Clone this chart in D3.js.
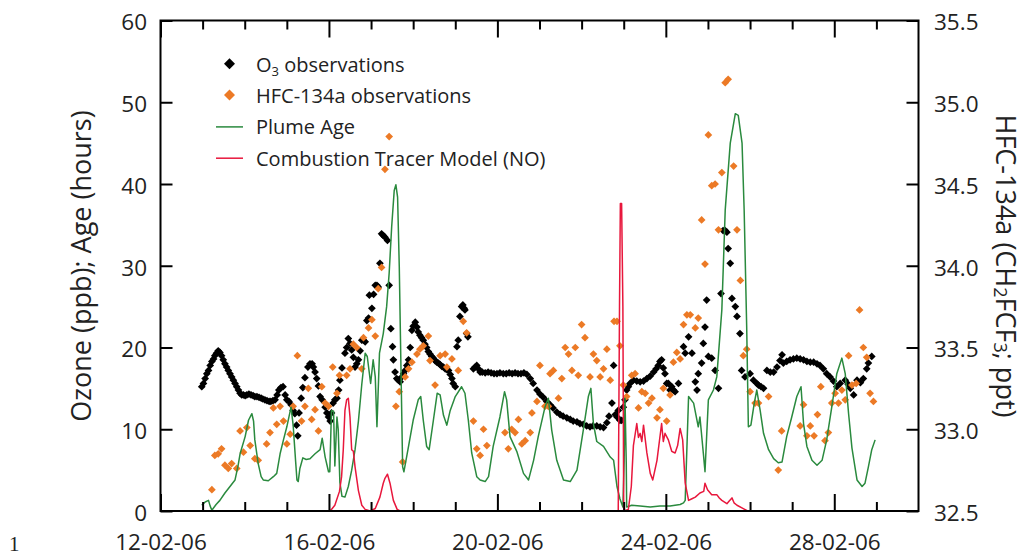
<!DOCTYPE html>
<html>
<head>
<meta charset="utf-8">
<script src="https://cdn.jsdelivr.net/npm/d3@7"></script>
<style>
  html, body { margin: 0; padding: 0; background: #fff; }
  svg { display: block; font-family: "Open Sans", sans-serif; }
</style>
</head>
<body>
<svg id="chart" width="1033" height="556"></svg>
<script>
// ---------------- DATA (days since 12-02-06 00:00) ----------------
const xMajorDays = [0, 4, 8, 12, 16];
const xMajorLabels = ["12-02-06", "16-02-06", "20-02-06", "24-02-06", "28-02-06"];
const xMinorDays = [1,2,3,5,6,7,9,10,11,13,14,15,17];
const leftTicks = [0, 10, 20, 30, 40, 50, 60];
const rightTicks = [32.5, 33.0, 33.5, 34.0, 34.5, 35.0, 35.5];

// O3 observations (ppb)
const o3Days = [0.98,1.02,1.06,1.10,1.14,1.18,1.22,1.26,1.29,1.33,1.37,1.41,1.45,1.49,1.53,1.57,1.61,1.65,1.69,1.73,1.77,1.81,1.85,1.89,1.93,1.97,2.01,2.05,2.10,2.15,2.20,2.24,2.29,2.34,2.39,2.43,2.48,2.53,2.58,2.62,2.67,2.72,2.77,2.81,2.86,2.91,2.96,3.00,3.05,3.10,3.15,3.19,3.23,3.26,3.29,3.34,3.38,3.43,3.50,3.55,3.60,3.63,3.67,3.71,3.75,3.79,3.84,3.91,3.95,3.99,4.03,4.06,4.10,4.14,4.19,4.23,4.26,4.31,4.38,4.42,4.46,4.50,4.54,4.58,4.62,4.66,4.70,4.74,4.78,4.82,4.86,4.90,4.94,4.96,5.02,5.06,5.10,5.14,5.17,5.21,5.25,5.29,5.33,5.39,5.43,5.47,5.51,5.53,5.57,5.61,5.65,5.69,5.73,5.77,5.81,5.85,5.89,5.93,5.97,6.00,6.05,6.09,6.12,6.16,6.20,6.24,6.28,6.32,6.36,6.40,6.44,6.48,6.52,6.56,6.60,6.64,6.68,6.72,6.76,6.80,6.84,6.88,6.92,6.95,7.00,7.04,7.07,7.11,7.15,7.18,7.21,7.23,7.27,7.30,7.43,7.47,7.51,7.55,7.59,7.64,7.71,7.78,7.85,7.92,7.99,8.06,8.14,8.21,8.28,8.35,8.42,8.49,8.56,8.63,8.70,8.78,8.85,8.94,9.01,9.09,9.17,9.25,9.32,9.41,9.49,9.56,9.65,9.73,9.80,9.89,9.96,10.04,10.12,10.20,10.27,10.36,10.44,10.52,10.60,10.65,10.72,10.76,10.80,10.84,10.87,10.91,10.95,10.99,11.03,11.07,11.11,11.15,11.23,11.31,11.39,11.47,11.55,11.63,11.71,11.77,11.82,11.86,11.90,11.94,11.98,12.02,12.06,12.10,12.14,12.18,12.22,12.30,12.42,12.46,12.54,12.62,12.70,12.74,12.77,12.85,12.89,12.93,12.97,13.01,13.09,13.17,13.25,13.31,13.36,13.41,13.45,13.48,13.53,13.57,13.65,13.69,13.76,13.80,13.88,14.00,14.08,14.16,14.20,14.26,14.32,14.40,14.48,14.56,14.64,14.71,14.76,14.79,14.87,14.95,15.03,15.11,15.19,15.27,15.35,15.43,15.51,15.59,15.66,15.74,15.82,15.90,15.98,16.06,16.14,16.26,16.33,16.38,16.46,16.54,16.62,16.69,16.77,16.81,16.89];
const o3Values = [15.2,15.6,16.2,16.8,17.2,17.8,18.3,18.6,19.0,19.3,19.6,19.4,19.0,18.5,18.0,17.6,17.2,16.8,16.4,16.0,15.6,15.2,14.8,14.4,14.2,14.2,14.1,14.2,14.3,14.2,14.1,14.0,14.0,13.9,13.8,13.7,13.6,13.5,13.4,13.4,13.5,13.6,14.2,14.8,15.1,15.2,14.2,13.6,13.4,13.0,12.3,11.9,10.5,9.2,12.0,13.8,15.1,16.3,17.6,18.0,18.0,17.6,17.0,16.2,15.3,14.0,13.6,12.7,12.0,11.5,11.0,12.0,13.2,13.6,13.8,14.8,16.0,17.5,19.3,20.0,21.1,20.5,19.7,18.8,17.6,18.0,18.5,19.6,20.9,20.9,20.7,23.3,23.6,26.4,24.8,26.5,27.6,27.6,27.4,30.3,33.9,33.7,33.5,33.1,27.6,22.3,20.1,18.5,17.0,16.2,16.0,15.8,16.4,16.8,17.2,17.8,18.5,20.0,22.1,22.6,23.1,22.5,21.9,21.5,21.2,20.9,20.4,20.0,19.5,19.2,18.9,18.7,18.4,18.2,18.1,17.9,17.7,17.6,17.4,17.3,17.2,16.7,16.2,15.6,15.2,20.1,20.9,23.8,25.0,25.2,24.8,24.6,21.7,21.3,17.4,17.6,17.8,17.4,17.0,17.0,16.9,17.0,16.9,16.8,16.8,16.9,16.8,16.8,16.9,16.8,16.9,16.8,16.8,16.9,16.7,16.2,15.6,14.8,14.3,13.9,13.4,13.0,12.6,12.1,11.8,11.6,11.4,11.2,11.0,10.9,10.7,10.6,10.4,10.3,10.4,10.4,10.3,10.2,10.8,11.6,13.2,17.8,11.8,11.5,12.3,11.1,11.1,12.7,13.6,14.8,15.2,15.6,16.0,15.9,15.8,15.9,16.2,16.5,17.0,17.4,17.8,18.3,18.5,17.5,16.8,15.6,15.6,14.8,15.2,14.8,14.6,15.6,20.1,19.3,21.3,19.3,15.8,14.8,16.8,18.1,20.5,22.5,25.8,18.9,18.7,17.2,15.0,26.6,34.3,34.3,34.1,32.1,30.3,26.0,25.0,23.8,21.7,17.2,16.4,16.8,16.0,15.6,15.4,15.2,15.0,17.2,17.0,17.0,17.6,18.4,19.1,18.1,18.3,18.5,18.6,18.7,18.6,18.5,18.3,18.2,18.2,18.0,17.8,17.4,16.8,16.4,15.9,15.2,15.6,16.0,15.5,15.0,14.2,16.0,15.7,16.2,17.4,18.1,18.9];

// HFC-134a observations (ppt, right axis)
const hfcDays = [1.22,1.29,1.37,1.45,1.53,1.61,1.69,1.81,1.89,1.97,2.05,2.13,2.24,2.32,2.52,2.60,2.68,2.76,2.84,2.92,3.00,3.08,3.15,3.25,3.35,3.43,3.51,3.59,3.67,3.75,3.83,3.91,3.99,4.09,4.19,4.25,4.42,4.50,4.58,4.66,4.78,4.82,4.94,5.02,5.10,5.17,5.25,5.33,5.43,5.59,5.67,5.75,5.81,5.89,5.97,6.09,6.16,6.24,6.36,6.40,6.52,6.64,6.76,6.80,6.92,7.07,7.19,7.27,7.43,7.51,7.59,7.67,7.75,8.18,8.26,8.34,8.42,8.50,8.58,8.66,8.78,8.82,8.94,9.01,9.13,9.21,9.25,9.33,9.45,9.53,9.61,9.69,9.77,9.85,9.92,10.00,10.08,10.20,10.28,10.36,10.44,10.52,10.60,10.68,10.77,10.84,10.91,10.99,11.07,11.19,11.27,11.35,11.43,11.51,11.59,11.67,11.79,11.86,11.94,12.02,12.10,12.18,12.26,12.34,12.42,12.50,12.58,12.70,12.77,12.85,12.93,13.01,13.09,13.17,13.25,13.33,13.41,13.48,13.61,13.69,13.77,13.84,13.92,14.00,14.12,14.20,14.44,14.67,14.75,15.19,15.27,15.35,15.43,15.52,15.60,15.68,15.78,15.86,15.94,16.02,16.10,16.18,16.26,16.34,16.42,16.52,16.60,16.69,16.77,16.85,16.93];
const hfcValues = [32.63,32.84,32.85,32.88,32.78,32.76,32.79,32.76,32.99,32.86,33.01,32.90,32.82,32.81,32.91,32.98,33.13,33.03,33.14,33.05,32.91,32.97,33.14,33.45,33.05,33.14,33.25,33.06,33.12,32.99,33.26,33.16,33.14,33.38,33.22,33.33,33.33,33.37,33.52,33.50,33.37,33.56,33.62,33.67,33.57,33.86,33.99,34.59,34.79,33.14,33.23,32.80,33.32,33.37,33.41,33.46,33.49,33.51,33.57,33.42,33.27,33.45,33.46,33.38,33.43,33.36,33.66,33.59,33.05,32.88,32.84,33.00,32.90,32.98,32.88,33.00,32.98,33.06,32.91,32.93,32.98,33.10,33.17,33.39,33.14,33.14,33.34,33.36,33.19,33.31,33.50,33.46,33.36,33.50,33.33,33.64,33.56,33.32,33.46,33.42,33.32,33.37,33.49,33.30,33.66,33.66,33.51,33.27,33.20,33.33,33.34,33.13,33.23,33.22,33.16,33.19,33.07,33.12,33.25,33.05,33.21,33.41,33.47,33.43,33.64,33.70,33.70,33.62,33.68,34.28,34.01,34.80,34.49,34.50,34.22,34.57,35.12,35.14,34.61,34.22,33.91,33.45,33.49,33.23,33.16,33.16,33.20,32.75,32.99,33.02,33.15,32.96,33.02,32.96,33.09,33.26,32.93,32.98,33.16,33.22,33.16,33.24,33.18,33.45,33.27,33.28,33.73,33.50,33.44,33.22,33.17];

// Plume Age (hours, left axis)
const ageDays = [0.98,1.06,1.14,1.18,1.22,1.32,1.41,1.53,1.65,1.77,1.84,1.89,2.01,2.09,2.17,2.21,2.24,2.32,2.39,2.44,2.56,2.68,2.76,2.84,2.92,3.00,3.10,3.15,3.21,3.24,3.27,3.31,3.38,3.46,3.55,3.67,3.79,3.84,3.91,3.99,4.02,4.06,4.11,4.14,4.19,4.22,4.26,4.31,4.38,4.46,4.54,4.62,4.70,4.78,4.86,4.91,4.99,5.05,5.10,5.14,5.20,5.29,5.37,5.43,5.49,5.55,5.59,5.63,5.67,5.71,5.75,5.78,5.89,6.00,6.12,6.18,6.24,6.32,6.38,6.48,6.57,6.64,6.72,6.80,6.88,7.00,7.15,7.23,7.31,7.39,7.51,7.59,7.71,7.79,7.90,8.06,8.17,8.22,8.30,8.46,8.62,8.74,8.86,8.97,9.13,9.21,9.29,9.41,9.57,9.73,9.89,10.04,10.16,10.22,10.28,10.36,10.52,10.68,10.76,10.84,10.91,10.98,11.01,11.03,11.06,11.07,11.19,11.39,11.63,11.86,12.10,12.34,12.42,12.46,12.54,12.66,12.77,12.81,12.89,12.93,13.01,13.13,13.21,13.33,13.41,13.53,13.65,13.72,13.81,13.86,13.92,13.96,14.02,14.10,14.16,14.24,14.32,14.44,14.56,14.67,14.76,14.87,14.99,15.11,15.21,15.27,15.35,15.47,15.59,15.71,15.82,15.94,16.06,16.18,16.26,16.34,16.42,16.54,16.66,16.73,16.81,16.89,16.97];
const ageValues = [0.7,1.1,1.3,0.6,0.1,0.8,1.3,2.2,3.0,3.8,5.5,7.0,9.1,11.1,11.9,11.0,8.7,5.8,4.2,3.8,3.7,4.2,4.6,7.0,8.7,10.3,12.7,10.5,6.0,3.8,3.6,5.2,6.5,6.3,6.4,7.0,7.5,8.9,6.6,4.8,4.8,12.3,12.2,5.5,11.5,10.0,3.5,1.8,1.7,3.0,5.0,7.5,11.0,15.5,19.3,18.9,15.6,18.5,16.4,10.3,19.3,21.7,25.0,29.1,34.8,39.2,39.9,38.4,29.9,17.6,5.4,4.8,7.9,11.1,13.6,14.0,11.1,7.9,7.5,11.1,14.4,14.2,11.7,10.5,12.3,14.0,15.2,14.4,11.1,7.1,4.2,3.8,3.6,4.2,7.9,11.5,14.6,13.6,9.1,7.3,4.6,3.8,6.2,9.1,12.7,13.8,9.9,6.2,3.8,3.6,5.0,9.9,14.0,15.0,10.7,8.5,7.9,6.6,6.2,3.0,1.5,0.5,6.0,13.8,6.0,0.5,0.7,0.6,0.5,0.6,0.6,0.8,1.0,1.3,14.0,13.2,10.3,11.5,7.1,4.8,13.6,14.8,16.4,24.6,36.8,45.0,48.6,48.4,45.0,36.8,22.5,10.3,10.5,13.2,14.8,12.3,9.5,7.5,6.4,5.9,6.0,9.1,11.5,14.0,15.2,10.7,7.9,6.2,5.6,6.2,8.7,12.7,16.8,18.7,16.8,11.9,7.7,3.8,3.0,3.4,5.4,7.5,8.7];

// Combustion Tracer Model (NO, left axis)
const noDays = [4.03,4.14,4.25,4.30,4.34,4.38,4.42,4.46,4.50,4.54,4.58,4.62,4.70,4.78,4.86,4.98,5.10,5.21,5.29,5.33,5.39,5.45,5.53,5.62,5.69,10.87,10.90,10.92,10.95,10.98,11.00,11.11,11.18,11.23,11.31,11.35,11.39,11.43,11.47,11.55,11.63,11.69,11.79,11.90,11.94,11.98,12.06,12.14,12.22,12.28,12.34,12.40,12.46,12.54,12.62,12.70,12.81,12.90,12.93,12.99,13.09,13.21,13.27,13.33,13.45,13.50,13.57,13.62,13.69,13.84,13.94];
const noValues = [0,0.7,2.4,4.2,7.5,12.3,13.6,13.8,11.5,7.5,7.3,5.4,2.5,0.7,0.2,0,0.3,1.7,3.4,4.0,4.5,3.4,1.3,0.2,0,0,25,37.6,37.6,25,0,0.2,3,8,10.7,9.0,9.5,8.5,10.5,7.1,4.6,3.8,6.2,10.7,8.5,9.5,8.7,7.3,7.1,8,10.1,8.7,3.4,1.3,1.5,1.7,2.2,2.4,3.4,2.6,2.0,2.0,1.6,1.3,0.9,1.2,1.6,1.0,0.7,0.3,0];

const legendLabels = ["O3 observations", "HFC-134a observations", "Plume Age", "Combustion Tracer Model (NO)"];
const leftTitle = "Ozone (ppb); Age (hours)";

// ---------------- CHART ----------------
const svg = d3.select("#chart");
const L = 160.5, R = 918.5, T = 20.5, B = 511;
const x = d3.scaleLinear().domain([0, 18]).range([L, R]);
const yL = d3.scaleLinear().domain([0, 60]).range([B, T]);
const yR = d3.scaleLinear().domain([32.5, 35.5]).range([B, T]);

const cBlack = "#000000", cOrange = "#EC7A26", cGreen = "#2A8A3E", cRed = "#E8173C";
const fontTick = 22.5;

// markers
const diamond = (size) => d3.symbol().type(d3.symbolSquare).size(size);
svg.append("g").selectAll("path").data(o3Days.map((d, i) => [d, o3Values[i]]))
  .join("path")
  .attr("d", diamond(30)())
  .attr("transform", d => `translate(${x(d[0])},${yL(d[1])}) rotate(45)`)
  .attr("fill", cBlack);

svg.append("g").selectAll("path").data(hfcDays.map((d, i) => [d, hfcValues[i]]))
  .join("path")
  .attr("d", diamond(30)())
  .attr("transform", d => `translate(${x(d[0])},${yR(d[1])}) rotate(45)`)
  .attr("fill", cOrange);

// lines
const lineL = d3.line().x(d => x(d[0])).y(d => yL(d[1]));
svg.append("path").datum(ageDays.map((d, i) => [d, ageValues[i]]))
  .attr("d", lineL).attr("fill", "none").attr("stroke", cGreen).attr("stroke-width", 1.5)
  .attr("stroke-linejoin", "round");
svg.append("path").datum(noDays.map((d, i) => [d, noValues[i]]))
  .attr("d", lineL).attr("fill", "none").attr("stroke", cRed).attr("stroke-width", 1.5)
  .attr("stroke-linejoin", "round");

// axes (ticks inside)
function styleAxis(g) {
  g.select(".domain").remove();
  g.selectAll("line").attr("stroke", "#000").attr("stroke-width", 2);
}
svg.append("g").attr("transform", `translate(0,${B})`)
  .call(d3.axisTop(x).tickValues(xMajorDays).tickSize(17).tickFormat(""))
  .call(styleAxis);
svg.append("g").attr("transform", `translate(0,${B})`)
  .call(d3.axisTop(x).tickValues(xMinorDays).tickSize(9).tickFormat(""))
  .call(styleAxis);
svg.append("g").attr("transform", `translate(0,${T})`)
  .call(d3.axisBottom(x).tickValues(xMajorDays).tickSize(17).tickFormat(""))
  .call(styleAxis);
svg.append("g").attr("transform", `translate(0,${T})`)
  .call(d3.axisBottom(x).tickValues(xMinorDays).tickSize(9).tickFormat(""))
  .call(styleAxis);
// bottom labels
const gxl = svg.append("g").attr("transform", `translate(0,${B})`)
  .call(d3.axisBottom(x).tickValues(xMajorDays).tickSize(0).tickPadding(23)
        .tickFormat((d, i) => xMajorLabels[i]));
gxl.select(".domain").remove();
gxl.selectAll("text").attr("font-size", fontTick).attr("font-family", "Open Sans").attr("fill", "#222");

// left
svg.append("g").attr("transform", `translate(${L},0)`)
  .call(d3.axisRight(yL).tickValues(leftTicks).tickSize(12).tickFormat(""))
  .call(styleAxis);
const gyl = svg.append("g").attr("transform", `translate(${L},0)`)
  .call(d3.axisLeft(yL).tickValues(leftTicks).tickSize(0).tickPadding(13.5).tickFormat(d3.format("d")));
gyl.select(".domain").remove();
gyl.selectAll("text").attr("font-size", fontTick).attr("font-family", "Open Sans").attr("dy", "0.42em").attr("fill", "#222");

// right
svg.append("g").attr("transform", `translate(${R},0)`)
  .call(d3.axisLeft(yR).tickValues(rightTicks).tickSize(12).tickFormat(""))
  .call(styleAxis);
const gyr = svg.append("g").attr("transform", `translate(${R},0)`)
  .call(d3.axisRight(yR).tickValues(rightTicks).tickSize(0).tickPadding(15.5).tickFormat(d3.format(".1f")));
gyr.select(".domain").remove();
gyr.selectAll("text").attr("font-size", fontTick).attr("font-family", "Open Sans").attr("dy", "0.42em").attr("fill", "#222");

// frame
svg.append("rect").attr("x", L).attr("y", T).attr("width", R - L).attr("height", B - T)
  .attr("fill", "none").attr("stroke", "#000").attr("stroke-width", 2);

// axis titles
svg.append("text").attr("transform", "translate(80,266) rotate(-90)")
  .attr("text-anchor", "middle").attr("dominant-baseline", "central")
  .attr("font-size", 27).attr("fill", "#222").text(leftTitle);

const rt = svg.append("text").attr("transform", "translate(1007,266) rotate(90)")
  .attr("text-anchor", "middle").attr("dominant-baseline", "central")
  .attr("font-size", 27).attr("fill", "#222");
rt.append("tspan").text("HFC-134a (CH");
rt.append("tspan").attr("font-size", 18).attr("dy", 6).text("2");
rt.append("tspan").attr("dy", -6).text("FCF");
rt.append("tspan").attr("font-size", 18).attr("dy", 6).text("3");
rt.append("tspan").attr("dy", -6).text("; ppt)");

// legend
const lg = svg.append("g").attr("font-size", 20).attr("fill", "#222");
const lx = 229.5, tx = 256, by0 = 71.8, step = 31.3;
lg.append("path").attr("d", diamond(60)()).attr("transform", `translate(${lx},${by0 - 8}) rotate(45)`).attr("fill", cBlack);
lg.append("path").attr("d", diamond(60)()).attr("transform", `translate(${lx},${by0 + step - 8}) rotate(45)`).attr("fill", cOrange);
lg.append("line").attr("x1", 216).attr("x2", 243).attr("y1", by0 + 2 * step - 7.5).attr("y2", by0 + 2 * step - 7.5)
  .attr("stroke", cGreen).attr("stroke-width", 1.5);
lg.append("line").attr("x1", 216).attr("x2", 243).attr("y1", by0 + 3 * step - 7.5).attr("y2", by0 + 3 * step - 7.5)
  .attr("stroke", cRed).attr("stroke-width", 1.5);
const t0 = lg.append("text").attr("x", tx).attr("y", by0);
t0.append("tspan").text("O");
t0.append("tspan").attr("font-size", 13).attr("dy", 4).text("3");
t0.append("tspan").attr("dy", -4).text(" observations");
legendLabels.slice(1).forEach((s, i) => {
  lg.append("text").attr("x", tx).attr("y", by0 + (i + 1) * step).text(s);
});

// page line number
svg.append("text").attr("x", 9).attr("y", 551).attr("font-family", "Liberation Serif")
  .attr("font-size", 21).attr("fill", "#222").text("1");
</script>
</body>
</html>
